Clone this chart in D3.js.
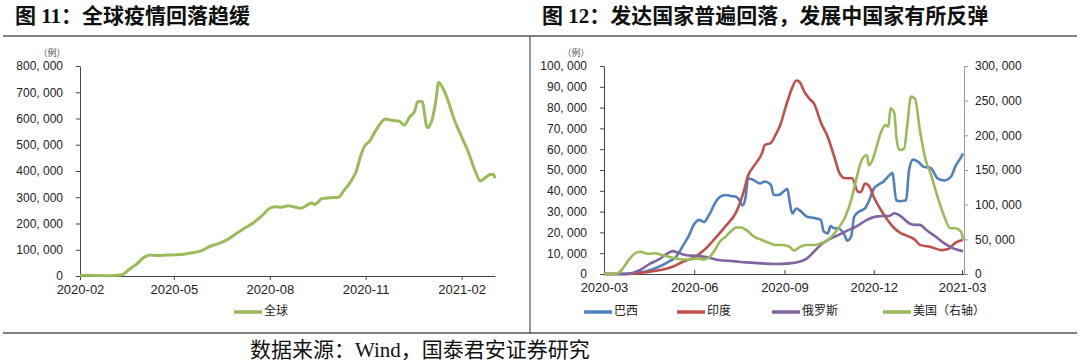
<!DOCTYPE html>
<html>
<head>
<meta charset="utf-8">
<script src="https://cdn.jsdelivr.net/npm/d3@7"></script>
<style>
  body { margin: 0; background: #fff; }
  text { font-family: "Liberation Sans", Arial, sans-serif; }
</style>
</head>
<body>
<div id="container"></div>
<script>
// global daily new cases (left chart)
var globalCases = [
  ["2020-02-01", 2000], ["2020-02-09", 3000], ["2020-02-19", 1500], ["2020-02-29", 1000],
  ["2020-03-06", 2500], ["2020-03-13", 6000], ["2020-03-19", 25000], ["2020-03-26", 44000],
  ["2020-04-02", 70000], ["2020-04-08", 80000], ["2020-04-15", 78000], ["2020-04-25", 80000],
  ["2020-05-02", 81000], ["2020-05-12", 84000], ["2020-05-18", 88000], ["2020-05-28", 97000],
  ["2020-06-04", 112000], ["2020-06-14", 125000], ["2020-06-22", 140000], ["2020-06-30", 162000],
  ["2020-07-07", 180000], ["2020-07-17", 205000], ["2020-07-24", 228000], ["2020-08-01", 258000],
  ["2020-08-06", 264000], ["2020-08-12", 262000], ["2020-08-19", 268000], ["2020-08-26", 262000],
  ["2020-08-31", 258000], ["2020-09-05", 268000], ["2020-09-10", 278000], ["2020-09-13", 272000],
  ["2020-09-16", 280000], ["2020-09-20", 295000], ["2020-09-28", 298000], ["2020-10-06", 300000],
  ["2020-10-11", 325000], ["2020-10-16", 350000], ["2020-10-20", 375000], ["2020-10-23", 400000],
  ["2020-10-27", 455000], ["2020-10-31", 495000], ["2020-11-05", 515000], ["2020-11-10", 550000],
  ["2020-11-15", 580000], ["2020-11-20", 598000], ["2020-11-27", 592000], ["2020-12-03", 590000],
  ["2020-12-08", 575000], ["2020-12-13", 605000], ["2020-12-18", 628000], ["2020-12-21", 665000],
  ["2020-12-25", 665000], ["2020-12-30", 565000], ["2021-01-04", 600000], ["2021-01-07", 660000],
  ["2021-01-10", 737000], ["2021-01-14", 715000], ["2021-01-19", 668000], ["2021-01-25", 595000],
  ["2021-02-01", 530000], ["2021-02-08", 466000], ["2021-02-14", 400000], ["2021-02-19", 362000],
  ["2021-02-24", 375000], ["2021-03-01", 388000], ["2021-03-04", 385000], ["2021-03-05", 372000]
];

// right chart, left axis
var brazil = [
  ["2020-03-01", 0], ["2020-03-24", 0], ["2020-03-31", 300], ["2020-04-15", 1600], ["2020-04-26", 3500],
  ["2020-05-06", 6000], ["2020-05-13", 8000], ["2020-05-21", 14000], ["2020-05-26", 18000],
  ["2020-06-01", 24000], ["2020-06-06", 26000], ["2020-06-11", 25000], ["2020-06-15", 27500],
  ["2020-06-18", 30000], ["2020-06-22", 34000], ["2020-06-27", 37000], ["2020-07-03", 38000],
  ["2020-07-08", 37500], ["2020-07-14", 37000], ["2020-07-17", 35500], ["2020-07-20", 33000],
  ["2020-07-23", 36000], ["2020-07-26", 46000], ["2020-08-01", 45000], ["2020-08-07", 43500],
  ["2020-08-12", 44500], ["2020-08-18", 43000], ["2020-08-21", 38000], ["2020-08-26", 38000],
  ["2020-09-01", 40000], ["2020-09-04", 41000], ["2020-09-06", 35500], ["2020-09-09", 29000],
  ["2020-09-13", 31500], ["2020-09-18", 30000], ["2020-09-24", 27500], ["2020-10-01", 27000],
  ["2020-10-08", 26000], ["2020-10-11", 20500], ["2020-10-15", 19500], ["2020-10-18", 23000],
  ["2020-10-22", 22000], ["2020-10-25", 22000], ["2020-11-01", 19000], ["2020-11-04", 16000],
  ["2020-11-08", 18000], ["2020-11-11", 27500], ["2020-11-16", 30000], ["2020-11-22", 31500],
  ["2020-11-26", 35000], ["2020-12-01", 41000], ["2020-12-06", 43000], ["2020-12-11", 44500],
  ["2020-12-17", 47500], ["2020-12-20", 48500], ["2020-12-24", 35500], ["2020-12-27", 35000],
  ["2021-01-03", 35500], ["2021-01-06", 50000], ["2021-01-10", 55000], ["2021-01-15", 54000],
  ["2021-01-21", 51500], ["2021-01-28", 51000], ["2021-02-04", 46000], ["2021-02-11", 45000],
  ["2021-02-18", 47000], ["2021-02-22", 51500], ["2021-03-01", 57000], ["2021-03-02", 58000]
];

var india = [
  ["2020-03-01", 0], ["2020-03-24", 0], ["2020-03-31", 200], ["2020-04-15", 1000], ["2020-04-29", 2000],
  ["2020-05-10", 3500], ["2020-05-21", 6000], ["2020-06-01", 8000], ["2020-06-11", 11500],
  ["2020-06-22", 17000], ["2020-07-03", 23000], ["2020-07-14", 30000], ["2020-07-21", 39000],
  ["2020-07-26", 47500], ["2020-08-01", 52000], ["2020-08-09", 58000], ["2020-08-12", 62000],
  ["2020-08-18", 63000], ["2020-08-23", 67000], ["2020-08-28", 72000], ["2020-09-02", 80000],
  ["2020-09-08", 88500], ["2020-09-13", 93000], ["2020-09-16", 92500], ["2020-09-22", 87000],
  ["2020-09-27", 84000], ["2020-10-01", 82000], ["2020-10-08", 73000], ["2020-10-15", 66000],
  ["2020-10-22", 56000], ["2020-10-27", 48500], ["2020-11-02", 46000], ["2020-11-09", 46000],
  ["2020-11-15", 39500], ["2020-11-18", 39500], ["2020-11-22", 43500], ["2020-11-26", 42500],
  ["2020-12-01", 37000], ["2020-12-08", 31000], ["2020-12-15", 26000], ["2020-12-22", 22000],
  ["2020-12-29", 19500], ["2021-01-06", 18000], ["2021-01-12", 16500], ["2021-01-17", 14000],
  ["2021-01-28", 13000], ["2021-02-08", 11500], ["2021-02-15", 12000], ["2021-02-22", 15000],
  ["2021-03-02", 16500]
];

var russia = [
  ["2020-03-01", 0], ["2020-03-17", 0], ["2020-03-28", 300], ["2020-04-07", 2000], ["2020-04-17", 5000],
  ["2020-04-26", 7000], ["2020-05-05", 10000], ["2020-05-10", 11000], ["2020-05-15", 10300],
  ["2020-05-24", 9000], ["2020-06-04", 8700], ["2020-06-15", 8000], ["2020-06-26", 6700],
  ["2020-07-10", 6200], ["2020-07-24", 5600], ["2020-08-09", 5100], ["2020-08-23", 4800],
  ["2020-09-06", 5100], ["2020-09-16", 5900], ["2020-09-24", 7500], ["2020-10-01", 10700],
  ["2020-10-08", 14000], ["2020-10-15", 16300], ["2020-10-24", 18300], ["2020-11-02", 20400],
  ["2020-11-13", 22800], ["2020-11-24", 26000], ["2020-12-03", 27600], ["2020-12-11", 27900],
  ["2020-12-17", 27900], ["2020-12-22", 29200], ["2020-12-29", 27600], ["2021-01-06", 24400],
  ["2021-01-12", 23600], ["2021-01-17", 23600], ["2021-01-24", 21000], ["2021-02-02", 18000],
  ["2021-02-11", 14700], ["2021-02-20", 12300], ["2021-03-02", 11000]
];

// right chart, right axis
var usa = [
  ["2020-03-01", 0], ["2020-03-13", 0], ["2020-03-19", 5800], ["2020-03-26", 20000], ["2020-04-02", 30000],
  ["2020-04-07", 32000], ["2020-04-15", 29000], ["2020-04-22", 30000], ["2020-04-29", 27500],
  ["2020-05-06", 25000], ["2020-05-13", 22600], ["2020-05-21", 21000], ["2020-05-28", 21000],
  ["2020-06-04", 22600], ["2020-06-11", 21000], ["2020-06-17", 25000], ["2020-06-22", 34600],
  ["2020-06-27", 46600], ["2020-07-03", 53800], ["2020-07-08", 61000], ["2020-07-14", 67000],
  ["2020-07-19", 67000], ["2020-07-24", 63500], ["2020-08-01", 53800], ["2020-08-09", 49000],
  ["2020-08-16", 45000], ["2020-08-23", 41800], ["2020-08-30", 41800], ["2020-09-06", 39400],
  ["2020-09-11", 33700], ["2020-09-16", 38500], ["2020-09-24", 41800], ["2020-10-01", 41800],
  ["2020-10-08", 44200], ["2020-10-15", 49000], ["2020-10-22", 58700], ["2020-10-27", 68300],
  ["2020-11-02", 82700], ["2020-11-08", 106700], ["2020-11-13", 135600], ["2020-11-18", 162000],
  ["2020-11-24", 171600], ["2020-11-26", 157000], ["2020-11-29", 162000], ["2020-12-03", 178800],
  ["2020-12-08", 203000], ["2020-12-13", 215000], ["2020-12-16", 212500], ["2020-12-18", 239000],
  ["2020-12-22", 232000], ["2020-12-24", 198000], ["2020-12-27", 179000], ["2021-01-01", 181000],
  ["2021-01-04", 212500], ["2021-01-08", 255800], ["2021-01-12", 253000], ["2021-01-17", 207700],
  ["2021-01-23", 164000], ["2021-01-28", 145000], ["2021-02-04", 111500], ["2021-02-11", 82700],
  ["2021-02-17", 65900], ["2021-02-22", 65900], ["2021-02-28", 61000], ["2021-03-02", 49000]
];

var leftTicksY = [0, 100000, 200000, 300000, 400000, 500000, 600000, 700000, 800000];
var leftTicksX = ["2020-02-01", "2020-05-01", "2020-08-01", "2020-11-01", "2021-02-01"];
var rightTicksY = [0, 10000, 20000, 30000, 40000, 50000, 60000, 70000, 80000, 90000, 100000];
var rightTicksY2 = [0, 50000, 100000, 150000, 200000, 250000, 300000];
var rightTicksX = ["2020-03-01", "2020-06-01", "2020-09-01", "2020-12-01", "2021-03-01"];

var seriesNames = ["巴西", "印度", "俄罗斯", "美国（右轴）"];
var seriesColors = ["#4f81bd", "#c0504d", "#8064a2", "#9bbb59"];

var width = 1080,
  height = 362;

var parse = d3.timeParse("%Y-%m-%d");
var num = d3.format(",");
var fmtNum = d => num(d).replace(",", ", ");
var fmtDate = d3.timeFormat("%Y-%m");
var cjk = "'Liberation Serif', 'Noto Sans CJK SC', serif";

const svg = d3
  .select("#container")
  .append("svg")
  .attr("width", width)
  .attr("height", height)
  .style("background", "#fff");

// titles and frame lines
svg.append("text")
  .text("图 11：全球疫情回落趋缓")
  .attr("x", 15).attr("y", 23)
  .style("font-family", cjk)
  .attr("font-size", "21px").attr("font-weight", "bold").attr("fill", "#111");

svg.append("text")
  .text("图 12：发达国家普遍回落，发展中国家有所反弹")
  .attr("x", 542).attr("y", 23)
  .style("font-family", cjk)
  .attr("font-size", "21px").attr("font-weight", "bold").attr("fill", "#111");

svg.append("line").attr("x1", 3).attr("x2", 1077).attr("y1", 36).attr("y2", 36)
  .attr("stroke", "#808080").attr("stroke-width", 2);
svg.append("line").attr("x1", 3).attr("x2", 1077).attr("y1", 333).attr("y2", 333)
  .attr("stroke", "#555").attr("stroke-width", 1.5);
svg.append("line").attr("x1", 530).attr("x2", 530).attr("y1", 36).attr("y2", 333)
  .attr("stroke", "#333").attr("stroke-width", 1);

svg.append("text")
  .text("数据来源：Wind，国泰君安证券研究")
  .attr("x", 250).attr("y", 357)
  .style("font-family", cjk)
  .attr("font-size", "21px").attr("fill", "#111");

function styleAxis(g, color) {
  g.select(".domain").attr("stroke", color);
  g.selectAll(".tick line").attr("stroke", color);
  g.selectAll(".tick text").attr("fill", "#222").attr("font-family", "'Liberation Sans', Arial, sans-serif");
}

function toPoints(arr) {
  return arr.map(d => ({ date: parse(d[0]), value: d[1] }));
}

// ---------- left chart ----------
var x1 = d3.scaleTime()
  .domain([parse("2020-02-01"), parse("2021-03-05")])
  .range([80, 495]);
var y1 = d3.scaleLinear().domain([0, 800000]).range([276, 66]);

var gx1 = svg.append("g")
  .attr("transform", "translate(0,276)")
  .call(d3.axisBottom(x1).tickValues(leftTicksX.map(parse)).tickFormat(fmtDate).tickSize(4).tickSizeOuter(0).tickPadding(5))
  .attr("font-size", "13px");
styleAxis(gx1, "#444");

var gy1 = svg.append("g")
  .attr("transform", "translate(80,0)")
  .call(d3.axisLeft(y1).tickValues(leftTicksY).tickFormat(fmtNum).tickSize(4).tickSizeOuter(0).tickPadding(13))
  .attr("font-size", "12px");
styleAxis(gy1, "#444");

svg.append("text").text("（例）")
  .attr("x", 52).attr("y", 56).attr("text-anchor", "middle")
  .style("font-family", "'Noto Sans CJK SC', sans-serif")
  .attr("font-size", "9px").attr("fill", "#555");

var line1 = d3.line()
  .x(d => x1(d.date))
  .y(d => y1(d.value))
  .curve(d3.curveMonotoneX);

svg.append("path")
  .datum(toPoints(globalCases))
  .attr("d", line1)
  .attr("fill", "none")
  .attr("stroke", "#9bbb59")
  .attr("stroke-width", 3)
  .attr("stroke-linejoin", "round");

// legend left
var legL = svg.append("g").attr("transform", "translate(234,312)");
legL.append("line").attr("x1", 0).attr("x2", 28).attr("y1", 0).attr("y2", 0)
  .attr("stroke", "#9bbb59").attr("stroke-width", 3.5);
legL.append("text").text("全球").attr("x", 30).attr("y", 0)
  .attr("dominant-baseline", "middle")
  .style("font-family", "'Noto Sans CJK SC', sans-serif")
  .attr("font-size", "12px").attr("fill", "#222");

// ---------- right chart ----------
var x2 = d3.scaleTime()
  .domain([parse("2020-03-01"), parse("2021-03-03")])
  .range([604, 964]);
var y2 = d3.scaleLinear().domain([0, 100000]).range([274, 66]);
var y2r = d3.scaleLinear().domain([0, 300000]).range([274, 66]);

var gx2 = svg.append("g")
  .attr("transform", "translate(0,274)")
  .call(d3.axisBottom(x2).tickValues(rightTicksX.map(parse)).tickFormat(fmtDate).tickSize(-4).tickSizeOuter(0).tickPadding(9))
  .attr("font-size", "13px");
styleAxis(gx2, "#444");

var gy2 = svg.append("g")
  .attr("transform", "translate(604,0)")
  .call(d3.axisLeft(y2).tickValues(rightTicksY).tickFormat(fmtNum).tickSize(4).tickSizeOuter(0).tickPadding(13))
  .attr("font-size", "12px");
styleAxis(gy2, "#444");

var gy2r = svg.append("g")
  .attr("transform", "translate(964,0)")
  .call(d3.axisRight(y2r).tickValues(rightTicksY2).tickFormat(fmtNum).tickSize(4).tickSizeOuter(0).tickPadding(7))
  .attr("font-size", "12px");
styleAxis(gy2r, "#999");

svg.append("text").text("（例）")
  .attr("x", 576).attr("y", 56).attr("text-anchor", "middle")
  .style("font-family", "'Noto Sans CJK SC', sans-serif")
  .attr("font-size", "9px").attr("fill", "#555");

var line2 = d3.line()
  .x(d => x2(d.date))
  .y(d => y2(d.value))
  .curve(d3.curveMonotoneX);
var line2r = d3.line()
  .x(d => x2(d.date))
  .y(d => y2r(d.value))
  .curve(d3.curveMonotoneX);

var rightSeries = [
  { data: brazil, line: line2 },
  { data: india, line: line2 },
  { data: russia, line: line2 },
  { data: usa, line: line2r }
];

svg.append("g")
  .selectAll("path")
  .data(rightSeries)
  .enter()
  .append("path")
  .attr("d", d => d.line(toPoints(d.data)))
  .attr("fill", "none")
  .attr("stroke", (d, i) => seriesColors[i])
  .attr("stroke-width", 2.6)
  .attr("stroke-linejoin", "round");

// legend right
var legendX = [584, 677, 772, 883];
var legR = svg.append("g")
  .selectAll("g")
  .data(seriesNames)
  .enter()
  .append("g")
  .attr("transform", (d, i) => "translate(" + legendX[i] + ",312)");

legR.append("line").attr("x1", 0).attr("x2", 28).attr("y1", 0).attr("y2", 0)
  .attr("stroke", (d, i) => seriesColors[i]).attr("stroke-width", 3.5);
legR.append("text").text(d => d).attr("x", 30).attr("y", 0)
  .attr("dominant-baseline", "middle")
  .style("font-family", "'Noto Sans CJK SC', sans-serif")
  .attr("font-size", "12px").attr("fill", "#222");
</script>
</body>
</html>
